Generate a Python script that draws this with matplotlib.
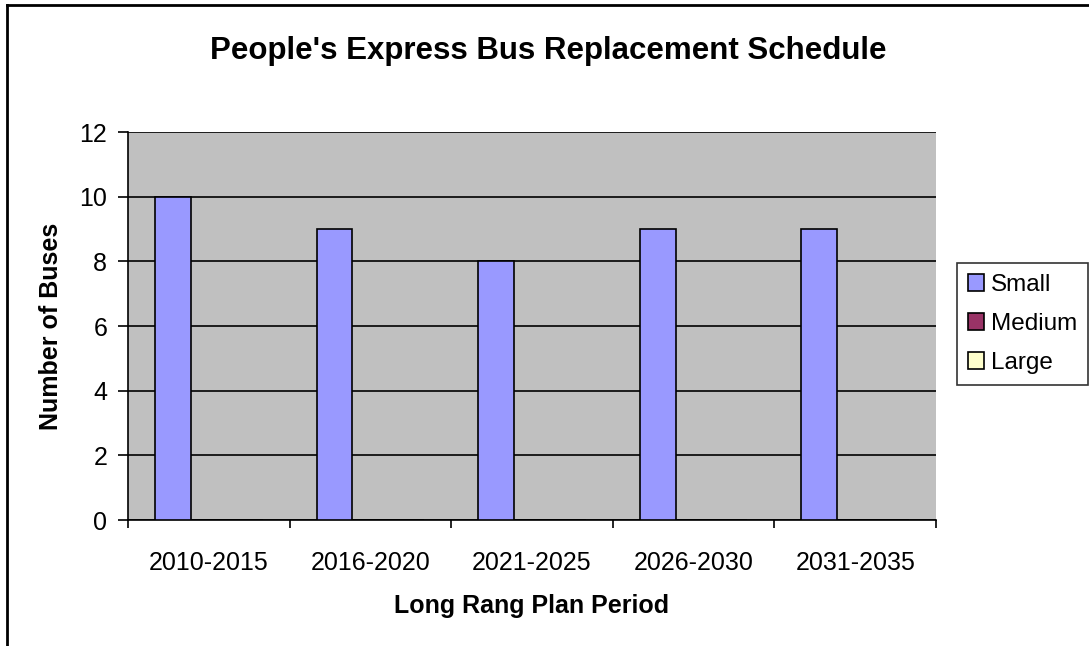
import numpy as np
import matplotlib.pyplot as plt
from matplotlib.lines import Line2D

plt.rcParams['font.family'] = ['Liberation Sans', 'DejaVu Sans']

periods = ['2010-2015', '2016-2020', '2021-2025', '2026-2030', '2031-2035']
small = [10, 9, 8, 9, 9]
medium = [0, 0, 0, 0, 0]
large = [0, 0, 0, 0, 0]
series = ['Small', 'Medium', 'Large']
colors = ['#9999FF', '#993366', '#FFFFCC']

fig = plt.figure(figsize=(10.89, 6.46), dpi=100)
ax = fig.add_axes([128/1089, 1-520/646, 808/1089, 388/646])
ax.set_facecolor('#C0C0C0')

x = np.arange(len(periods))
w = 0.2222
offs = [0.2778, 0.5, 0.7222]
for vals, off, c, name in zip([small, medium, large], offs, colors, series):
    ax.bar(x + off, vals, w, color=c, edgecolor='black', linewidth=1.2,
           label=name, zorder=3)

ax.set_xlim(0, 5)
ax.set_ylim(0, 12)
ax.set_yticks(range(0, 13, 2))
ax.yaxis.grid(True, color='black', linewidth=1.2, zorder=1)
ax.set_axisbelow(True)
ax.set_xticks(range(6))
ax.set_xticklabels([])
ax.set_xticks(x + 0.5, minor=True)
ax.set_xticklabels(periods, minor=True)
ax.tick_params(axis='x', which='minor', length=0, pad=22, labelsize=18)
ax.tick_params(axis='x', which='major', direction='out', length=6, width=1.2)
ax.tick_params(axis='y', direction='out', length=7, width=1.2, labelsize=18, pad=8)
for s in ['top', 'right']:
    ax.spines[s].set_visible(False)
for s in ['left', 'bottom']:
    ax.spines[s].set_linewidth(1.2)

ax.set_ylabel('Number of Buses', fontsize=18, fontweight='bold', labelpad=12)
ax.set_xlabel('Long Rang Plan Period', fontsize=18, fontweight='bold', labelpad=14)
fig.text(548/1089, 1-51/646, "People's Express Bus Replacement Schedule",
         fontsize=22.5, fontweight='bold', ha='center', va='center')

leg = ax.legend(loc='center left', bbox_to_anchor=(957/1089, 1-324/646),
                bbox_transform=fig.transFigure, frameon=True, fancybox=False,
                fontsize=17.5, handlelength=0.65, handleheight=0.65,
                handletextpad=0.3, borderpad=0.45, labelspacing=0.7,
                borderaxespad=0)
leg.get_frame().set_edgecolor('black')
leg.get_frame().set_linewidth(1.2)

# figure border (left and top only visible in reference)
fig.add_artist(Line2D([6.5/1089, 6.5/1089], [0, 1-4.5/646], transform=fig.transFigure,
                      color='black', linewidth=2))
fig.add_artist(Line2D([6.5/1089, 1], [1-4.5/646, 1-4.5/646], transform=fig.transFigure,
                      color='black', linewidth=2))

fig.savefig('out.png', dpi=100)
